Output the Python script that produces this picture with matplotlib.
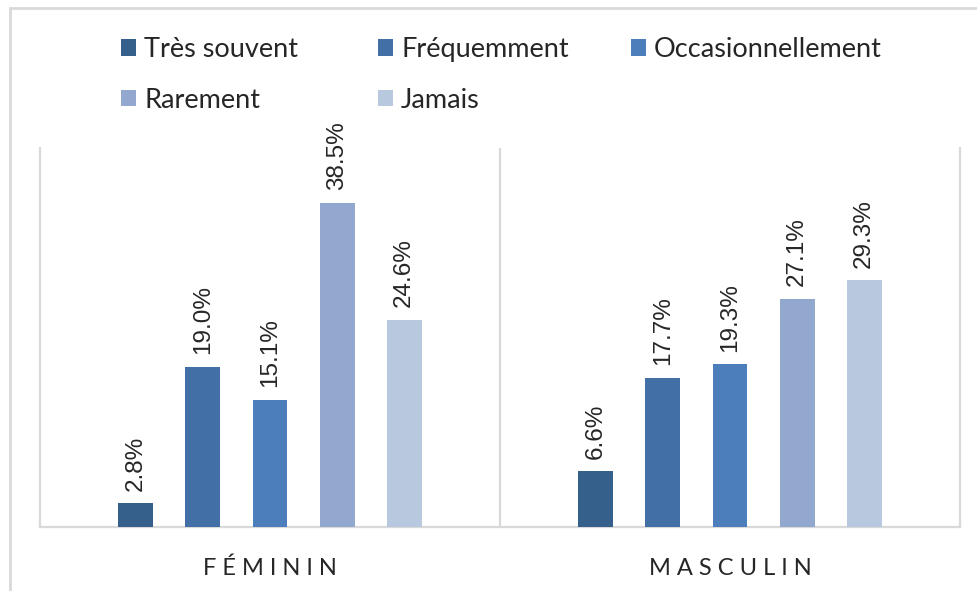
import matplotlib
matplotlib.use("Agg")
import matplotlib.pyplot as plt
from matplotlib.patches import Rectangle, Patch
import numpy as np

groups = ["FÉMININ", "MASCULIN"]
series = ["Très souvent", "Fréquemment", "Occasionnellement", "Rarement", "Jamais"]
values = {
    "Très souvent": [2.8, 6.6],
    "Fréquemment": [19.0, 17.7],
    "Occasionnellement": [15.1, 19.3],
    "Rarement": [38.5, 27.1],
    "Jamais": [24.6, 29.3],
}
colors = ["#36608C", "#416FA6", "#4B7EBA", "#93A8CE", "#B8C8DF"]

W, H = 977, 591
fig = plt.figure(figsize=(W / 100, H / 100), dpi=100)
fig.patch.set_facecolor("white")

# outer border
fig.add_artist(Rectangle((10 / W, -0.2), 1.2, (H - 8) / H + 0.2,
                         transform=fig.transFigure, fill=False,
                         edgecolor="#D9D9D9", linewidth=2.0))

ax = fig.add_axes([40 / W, (H - 527) / H, (960 - 40) / W, (527 - 148) / H])
x = np.arange(len(groups))
step = 0.1457
width = 0.076
for i, s in enumerate(series):
    pos = x + (i - 2) * step
    bars = ax.bar(pos, values[s], width=width, color=colors[i], label=s, zorder=3)
    for b, v in zip(bars, values[s]):
        ax.annotate(f"{v:.1f}%", (b.get_x() + b.get_width() / 2, v),
                    xytext=(0, 9), textcoords="offset points",
                    rotation=90, ha="center", va="bottom",
                    fontsize=17.5, family=["Liberation Sans", "DejaVu Sans"],
                    color="#262626")

ax.set_xlim(-0.5, 1.5)
ax.set_ylim(0, 45)
ax.set_yticks([])
spaced = [" ".join(list(g)) for g in groups]
ax.set_xticks(x)
ax.set_xticklabels(spaced, fontsize=17, family=["Lato", "DejaVu Sans"], color="#262626")
ax.tick_params(axis="x", length=0, pad=22)
for sp in ["left", "right", "bottom"]:
    ax.spines[sp].set_color("#D9D9D9")
    ax.spines[sp].set_linewidth(1.6)
ax.spines["top"].set_visible(False)
ax.axvline(0.5, color="#D9D9D9", linewidth=1.6, zorder=1)

# legend: three columns placed at fixed positions
handles = [Patch(facecolor=c, edgecolor="none") for c in colors]
cols = [(0, 3), (1, 4), (2,)]
col_x = [121, 378, 631]
for cx, idxs in zip(col_x, cols):
    leg = fig.legend([handles[i] for i in idxs], [series[i] for i in idxs],
                     loc="upper left", bbox_to_anchor=(cx / W, (H - 37) / H),
                     frameon=False, ncol=1,
                     prop={"family": ["Lato", "DejaVu Sans"], "size": 19.5},
                     handlelength=0.55, handleheight=0.55, handletextpad=0.3,
                     labelspacing=0.95, borderpad=0, borderaxespad=0)
    for t in leg.get_texts():
        t.set_color("#262626")

fig.savefig("out.png", dpi=100, facecolor="white")
